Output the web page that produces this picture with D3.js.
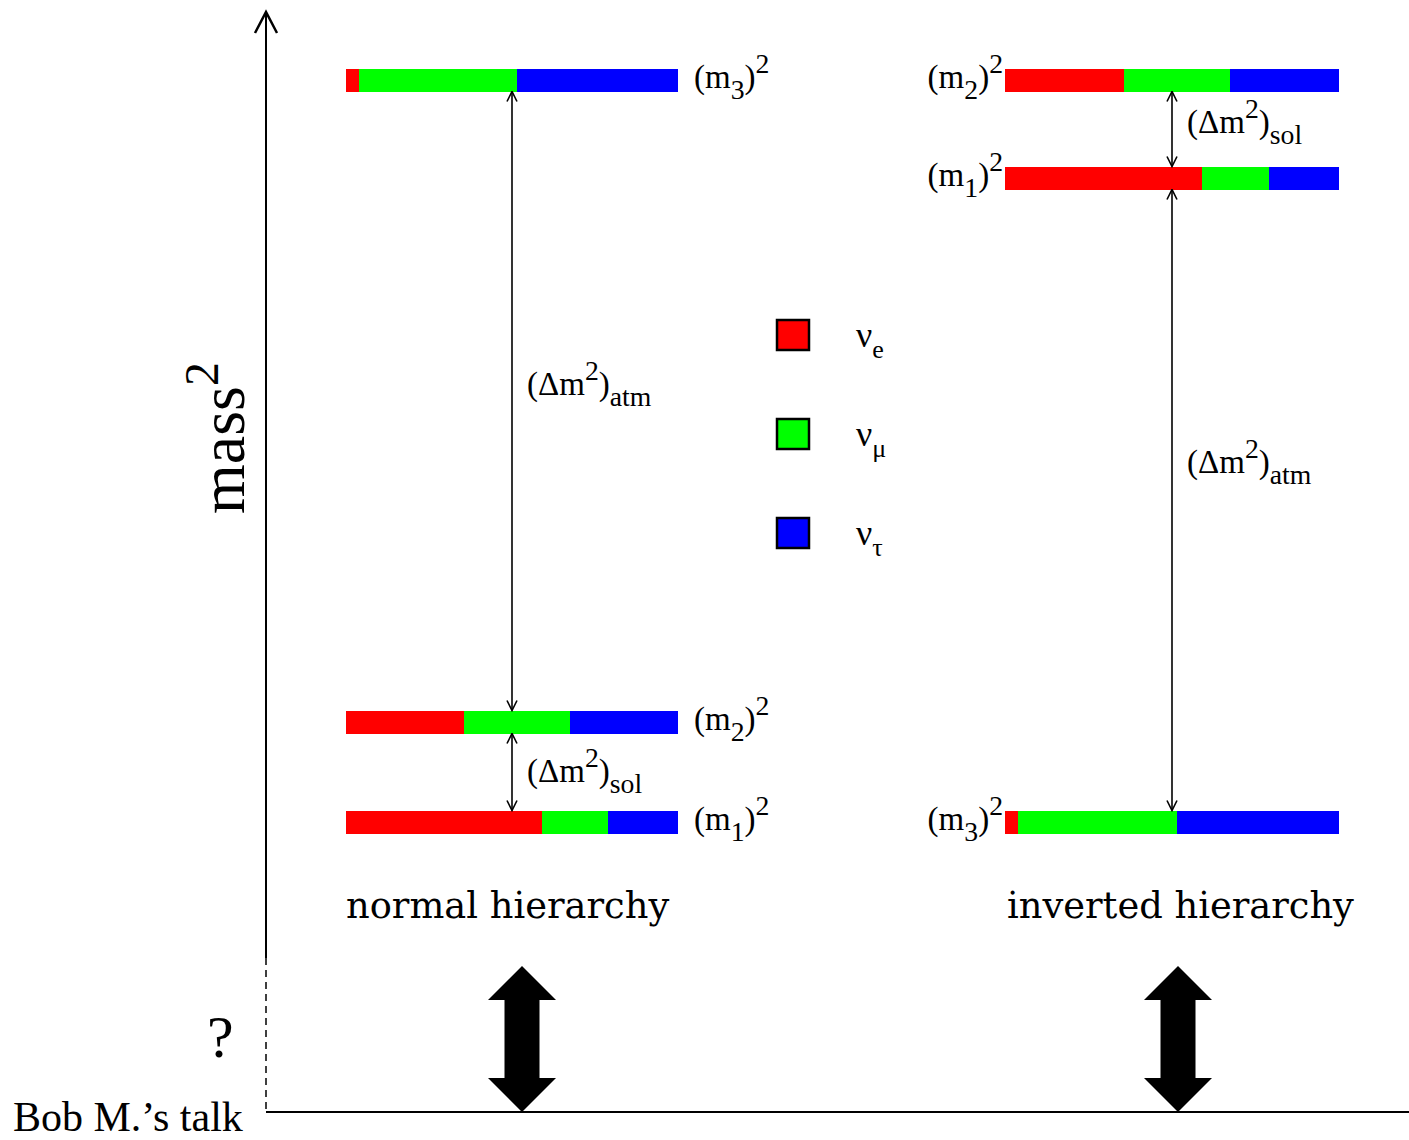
<!DOCTYPE html>
<html>
<head>
<meta charset="utf-8">
<script src="https://cdn.jsdelivr.net/npm/d3@7"></script>
<style>
  html, body { margin: 0; padding: 0; background: #fff; }
  svg { display: block; }
  text { font-family: "Liberation Serif", "Times New Roman", serif; fill: #000; }
  text.hier { font-family: "DejaVu Serif", serif; }
</style>
</head>
<body>
<svg id="chart" width="1409" height="1140"></svg>
<script>
// Flavour content of each mass eigenstate (m1, m2, m3)
const massStates = ["1", "2", "3"];
const nuE   = [0.59, 0.355, 0.04];
const nuMu  = [0.20, 0.32, 0.475];
const nuTau = [0.21, 0.325, 0.485];

// Flavour names and colours
const flavorSubs = ["e", "μ", "τ"];
const flavorColors = ["#ff0000", "#00ff00", "#0000ff"];

// Mass-squared levels (arbitrary units, lightest state = 0) for m1, m2, m3
const hierarchies = ["normal hierarchy", "inverted hierarchy"];
const normalLevels = [0, 1, 7.42];
const invertedLevels = [6.44, 7.42, 0];

// Splittings drawn between neighbouring levels, bottom to top
const normalSplits = ["sol", "atm"];
const invertedSplits = ["atm", "sol"];

const W = 1409, H = 1140;
const svg = d3.select("#chart");

// mass² axis
const y = d3.scaleLinear().domain([-2.9, 8.1]).range([1112, 12]);
const barH = 23;

// horizontal placement of each hierarchy's level bars
const xBars = [
  d3.scaleLinear().domain([0, 1]).range([346, 678]),
  d3.scaleLinear().domain([0, 1]).range([1005, 1339])
];

const axisX = 266;
const axisBreak = 958;

// ---- axes ----
svg.append("line")
  .attr("x1", axisX).attr("x2", axisX)
  .attr("y1", y.range()[1]).attr("y2", axisBreak)
  .attr("stroke", "#000").attr("stroke-width", 2);
svg.append("line")
  .attr("x1", axisX).attr("x2", axisX)
  .attr("y1", axisBreak).attr("y2", y.range()[0])
  .attr("stroke", "#000").attr("stroke-width", 1.5)
  .attr("stroke-dasharray", "7,5");
svg.append("path")
  .attr("d", `M${axisX - 11},${y.range()[1] + 21} L${axisX},${y.range()[1]} L${axisX + 11},${y.range()[1] + 21}`)
  .attr("fill", "none").attr("stroke", "#000").attr("stroke-width", 2.5);
svg.append("line")
  .attr("x1", axisX).attr("x2", W)
  .attr("y1", y.range()[0]).attr("y2", y.range()[0])
  .attr("stroke", "#000").attr("stroke-width", 2);

// mass² axis title
const massTitle = svg.append("text")
  .attr("transform", `translate(244,514) rotate(-90)`)
  .attr("font-size", 64);
massTitle.append("tspan").text("mass");
massTitle.append("tspan").attr("dy", -26).attr("font-size", 48).text("2");

svg.append("text").attr("x", 207).attr("y", 1057).attr("font-size", 60).text("?");
svg.append("text").attr("x", 13).attr("y", 1131).attr("font-size", 42).text("Bob M.’s talk");

// ---- rich label helper (sub/superscripts) ----
function richText(g, x, yy, parts, size, anchor) {
  const t = g.append("text").attr("x", x).attr("y", yy)
    .attr("font-size", size).attr("text-anchor", anchor || "start");
  let off = 0;
  parts.forEach(p => {
    const target = p.sub ? size * 0.32 : p.sup ? -size * 0.44 : 0;
    const ts = t.append("tspan").attr("dy", target - off).text(p.t);
    if (p.sub || p.sup) ts.attr("font-size", size * 0.84);
    off = target;
  });
  return t;
}

// arrow head marker for thin splitting arrows
const defs = svg.append("defs");
defs.append("marker")
  .attr("id", "vee")
  .attr("viewBox", "0 0 12 12")
  .attr("refX", 11).attr("refY", 6)
  .attr("markerWidth", 12).attr("markerHeight", 12)
  .attr("markerUnits", "userSpaceOnUse")
  .attr("orient", "auto-start-reverse")
  .append("path")
  .attr("d", "M1,1 L11,6 L1,11")
  .attr("fill", "none").attr("stroke", "#000").attr("stroke-width", 1.6);

const levelSets = [normalLevels, invertedLevels];
const splitSets = [normalSplits, invertedSplits];
const flavorSeries = [nuE, nuMu, nuTau];
// splitting label offsets along the arrow (px from midpoint)
const splitLabelDy = [[10, -6], [-27, 4]];

hierarchies.forEach((name, hi) => {
  const g = svg.append("g");
  const xs = xBars[hi];
  const levels = levelSets[hi];

  // stacked flavour segments per mass state
  massStates.forEach((ms, mi) => {
    const fr = flavorSeries.map(s => s[mi]);
    const stack = d3.cumsum(fr);
    const cy = y(levels[mi]);
    g.selectAll(null)
      .data(fr.map((f, k) => ({ f, k, x0: stack[k] - f, x1: stack[k] })))
      .join("rect")
      .attr("x", d => xs(d.x0))
      .attr("width", d => xs(d.x1) - xs(d.x0))
      .attr("y", cy - barH / 2)
      .attr("height", barH)
      .attr("fill", d => flavorColors[d.k])
      .attr("shape-rendering", "crispEdges");

    const parts = [{ t: "(m" }, { t: ms, sub: true }, { t: ")" }, { t: "2", sup: true }];
    if (hi === 0) richText(g, xs.range()[1] + 16, cy + 8, parts, 33, "start");
    else richText(g, xs.range()[0] - 2, cy + 8, parts, 33, "end");
  });

  // splitting arrows between consecutive levels
  const order = d3.range(levels.length).sort((a, b) => levels[a] - levels[b]);
  const ax = (xs.range()[0] + xs.range()[1]) / 2;
  for (let i = 0; i < order.length - 1; i++) {
    const lo = y(levels[order[i]]) - barH / 2;
    const hiY = y(levels[order[i + 1]]) + barH / 2;
    g.append("line")
      .attr("x1", ax).attr("x2", ax)
      .attr("y1", lo).attr("y2", hiY)
      .attr("stroke", "#000").attr("stroke-width", 1.6)
      .attr("marker-start", "url(#vee)")
      .attr("marker-end", "url(#vee)");
    const mid = (lo + hiY) / 2 + splitLabelDy[hi][i];
    richText(g, ax + 15, mid, [{ t: "(Δm" }, { t: "2", sup: true }, { t: ")" }, { t: splitSets[hi][i], sub: true }], 33, "start");
  }

  // hierarchy name
  g.append("text")
    .attr("class", "hier")
    .attr("x", xs.range()[0] + (hi === 0 ? 0 : 2))
    .attr("y", 918)
    .attr("font-size", 36.8)
    .text(name);

  // large double-headed arrow for the unknown absolute scale
  const cx = ax + (hi === 0 ? 10 : 6);
  const top = y(-1.44), bot = y.range()[0];
  const hw = 34, hl = 34, sw = 17.5;
  g.append("path")
    .attr("d", `M${cx},${top} L${cx + hw},${top + hl} L${cx + sw},${top + hl} L${cx + sw},${bot - hl}
      L${cx + hw},${bot - hl} L${cx},${bot} L${cx - hw},${bot - hl} L${cx - sw},${bot - hl}
      L${cx - sw},${top + hl} L${cx - hw},${top + hl} Z`)
    .attr("fill", "#000");
});

// ---- flavour legend ----
const ly = d3.scalePoint().domain(flavorSubs).range([335, 533]);
const legend = svg.append("g");
flavorSubs.forEach((f, k) => {
  legend.append("rect")
    .attr("x", 777).attr("y", ly(f) - 15)
    .attr("width", 32).attr("height", 30)
    .attr("fill", flavorColors[k])
    .attr("stroke", "#000").attr("stroke-width", 2.5);
  const t = legend.append("text").attr("x", 856).attr("y", ly(f) + 12).attr("font-size", 36);
  t.append("tspan").text("ν");
  t.append("tspan").attr("dy", 11).attr("font-size", 26).text(f);
});
</script>
</body>
</html>
